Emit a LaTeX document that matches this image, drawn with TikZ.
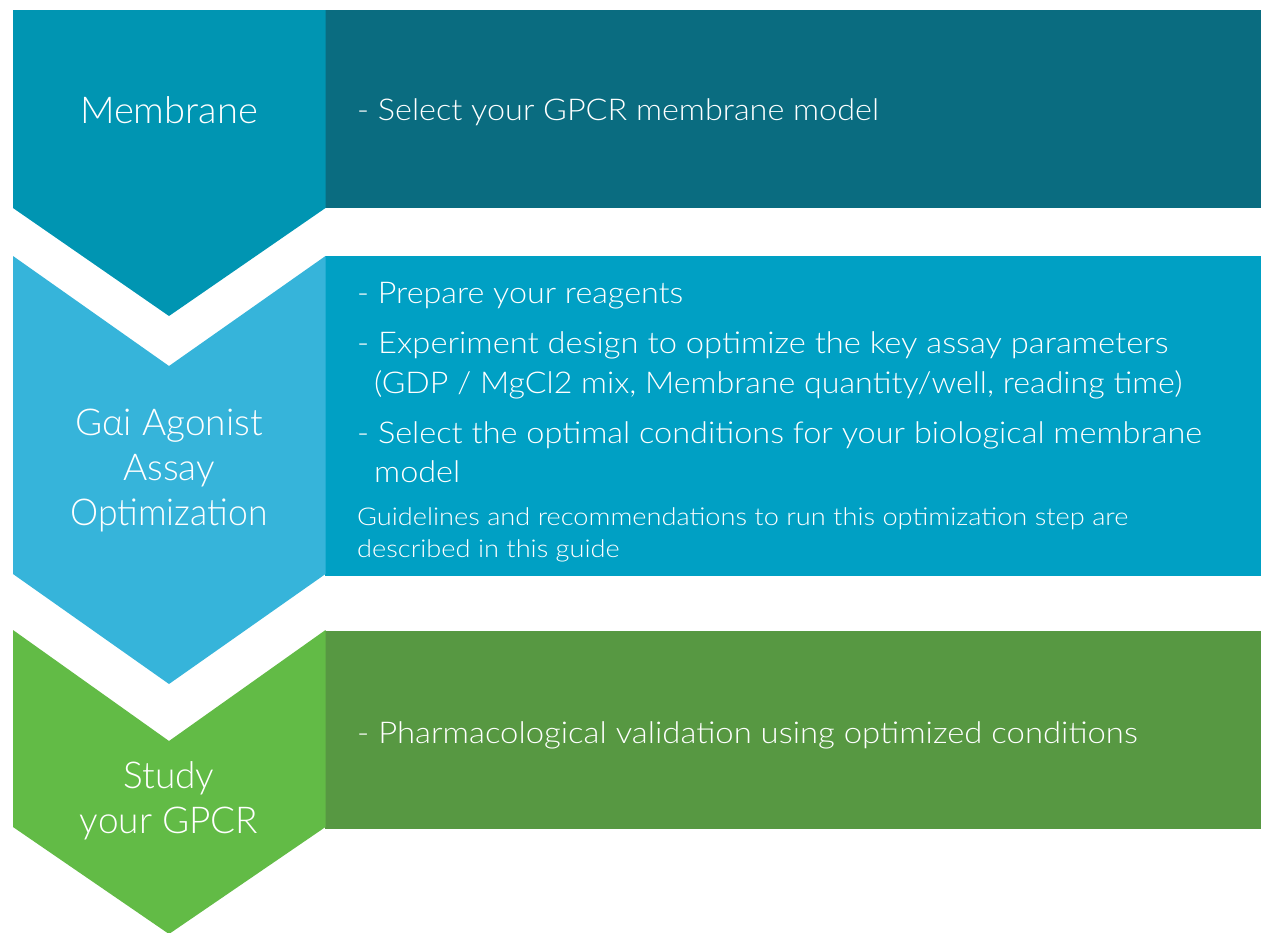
\documentclass[tikz,border=0pt]{standalone}
\usepackage{graphicx}
\usepackage{fontspec}
\setmainfont{Lato Light}
\definecolor{chA}{RGB}{0,149,178}
\definecolor{rcA}{RGB}{10,108,128}
\definecolor{chB}{RGB}{54,180,218}
\definecolor{rcB}{RGB}{0,160,196}
\definecolor{chC}{RGB}{98,187,70}
\definecolor{rcC}{RGB}{87,152,66}
\newcommand{\hxs}[2]{\scalebox{#1}[1]{#2}}
\tikzset{
  lbl/.style={text=white,align=center,inner sep=0pt,font=\fontsize{37}{45}\selectfont},
  itm/.style={text=white,anchor=base west,inner sep=0pt,font=\fontsize{30}{40}\selectfont},
  sml/.style={text=white,anchor=base west,inner sep=0pt,font=\fontsize{24.5}{32}\selectfont}
}
\begin{document}
\begin{tikzpicture}[x=1pt,y=-1pt]
\useasboundingbox (0,0) rectangle (1261,932);
% rectangles
\fill[rcA] (325,10) rectangle (1261,208);
\fill[rcB] (325,256) rectangle (1261,576);
\fill[rcC] (325,631) rectangle (1261,829);
% chevrons
\fill[chA] (13,10) -- (325.5,10) -- (325.5,208) -- (169,316) -- (13,208) -- cycle;
\fill[chB] (13,256) -- (169,366) -- (325.5,256) -- (325.5,574) -- (169,684) -- (13,574) -- cycle;
\fill[chC] (13,630) -- (169,741) -- (325.5,630) -- (325.5,827) -- (169,934) -- (13,827) -- cycle;
% chevron labels
\node[lbl,anchor=base] (l1) at (169,123) {\hxs{1.03}{Membrane}};
\node[lbl,anchor=base] (l2a) at (169,435) {Gαi Agonist};
\node[lbl,anchor=base] (l2b) at (169,480) {Assay};
\node[lbl,anchor=base] (l2c) at (169,525) {\hxs{0.96}{Optimization}};
\node[lbl,anchor=base] (l3a) at (169,788) {Study};
\node[lbl,anchor=base] (l3b) at (169,833) {your GPCR};
% right texts
\node[itm] (t1) at (357,120) {\hxs{1.079}{- Select your GPCR membrane model}};
\node[itm] (t2) at (357,303) {\hxs{1.076}{- Prepare your reagents}};
\node[itm] (t3) at (357,353) {\hxs{1.09}{- Experiment design to optimize the key assay parameters}};
\node[itm] (t3b) at (374,393) {\hxs{1.073}{(GDP / MgCl2 mix, Membrane quantity/well, reading time)}};
\node[itm] (t4) at (357,443) {\hxs{1.083}{- Select the optimal conditions for your biological membrane}};
\node[itm] (t4b) at (374,482) {\hxs{1.08}{model}};
\node[sml] (g1) at (357,525) {\hxs{1.11}{Guidelines and recommendations to run this optimization step are}};
\node[sml] (g2) at (357,557) {\hxs{1.11}{described in this guide}};
\node[itm] (t5) at (357,743) {\hxs{1.095}{- Pharmacological validation using optimized conditions}};
\end{tikzpicture}
\end{document}
